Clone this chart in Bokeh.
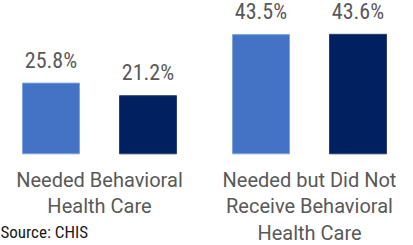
from bokeh.plotting import figure
from bokeh.embed import file_html
from bokeh.resources import INLINE
from bokeh.models import ColumnDataSource, Range1d, Label
from bokeh.transform import dodge
from bokeh.core.properties import value

# ---- data ----
categories = ["Needed Behavioral\nHealth Care",
              "Needed but Did Not\nReceive Behavioral\nHealth Care"]
series_a = [25.8, 43.5]   # lighter blue bars
series_b = [21.2, 43.6]   # dark navy bars
labels_a = [f"{v:.1f}%" for v in series_a]
labels_b = [f"{v:.1f}%" for v in series_b]
source_note = "Source: CHIS"

W, H = 413, 245
px_per_group = 210.0
px_per_unit = 2.74
base_px = 153.3
left_px = 99.0

src = ColumnDataSource(dict(x=list(range(len(categories))), cat=categories,
                            a=series_a, b=series_b, la=labels_a, lb=labels_b,
                            zero=[0] * len(categories)))

xs = -left_px / px_per_group
p = figure(width=W, height=H, output_backend="svg", toolbar_location=None,
           x_range=Range1d(xs, xs + W / px_per_group),
           y_range=Range1d(-(H - base_px) / px_per_unit, base_px / px_per_unit),
           min_border=0, min_border_left=0, min_border_right=0,
           min_border_top=0, min_border_bottom=0)
p.axis.visible = False
p.grid.visible = False
p.outline_line_color = None
p.background_fill_color = "white"
p.border_fill_color = "white"

off = 48.5 / px_per_group
bw = 57.0 / px_per_group
p.vbar(x=dodge("x", -off), top="a", width=bw, bottom=0, source=src,
       fill_color="#4472C4", line_color="#7EA6DD", line_width=1)
p.vbar(x=dodge("x", off), top="b", width=bw, bottom=0, source=src,
       fill_color="#002060", line_color="#2A3F70", line_width=1)

p.text(x=dodge("x", -off), y="a", text="la", source=src, y_offset=-23,
       text_align="center", text_baseline="alphabetic",
       text_font=value("Roboto Condensed"), text_font_size="22px",
       text_color="#595959")
p.text(x=dodge("x", off), y="b", text="lb", source=src, y_offset=-23,
       text_align="center", text_baseline="alphabetic",
       text_font=value("Roboto Condensed"), text_font_size="22px",
       text_color="#595959")

p.text(x="x", y="zero", text="cat", source=src, y_offset=14,
       text_align="center", text_baseline="top", text_line_height=1.1,
       text_font=value("Roboto"), text_font_size="20px",
       text_color="#595959")

p.add_layout(Label(x=0, y=4, x_units="screen", y_units="screen",
                   text=source_note, text_font="Roboto Condensed",
                   text_font_size="17px", text_color="#1a1a1a",
                   text_baseline="bottom"))

open("out.html", "w").write(file_html(p, INLINE))
